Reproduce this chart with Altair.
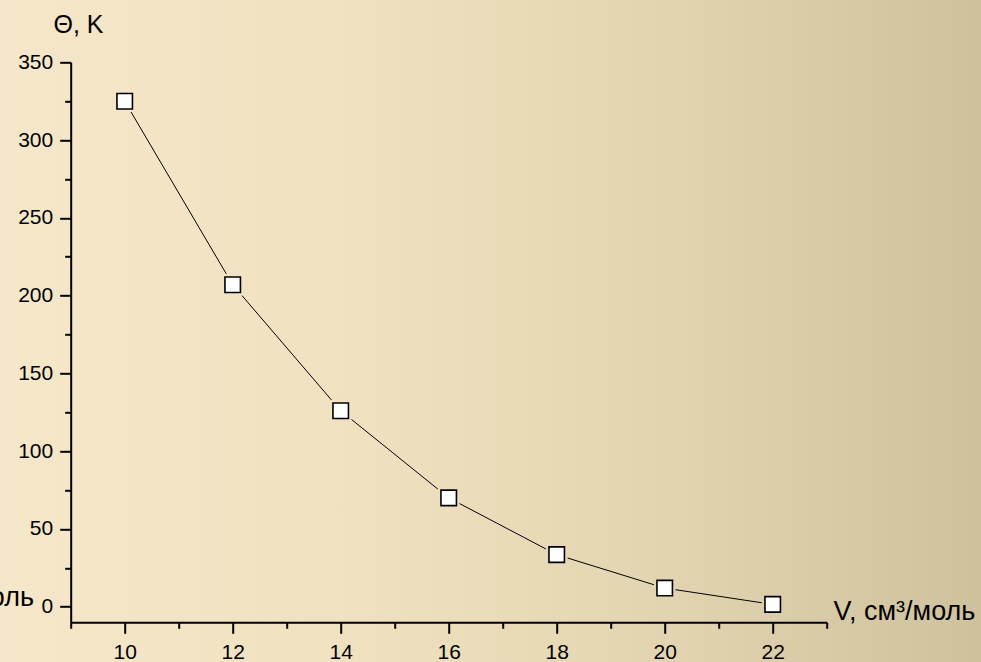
import altair as alt
import pandas as pd

# Debye temperature versus molar volume
volume = [10, 12, 14, 16, 18, 20, 22]
theta = [325, 207, 126, 70, 33.5, 12, 1.5]

x_major = [10, 12, 14, 16, 18, 20, 22]
x_minor = [9, 11, 13, 15, 17, 19, 21, 23]
y_major = [0, 50, 100, 150, 200, 250, 300, 350]
y_minor = [25, 75, 125, 175, 225, 275, 325]

x_title = "V, см³/моль"
y_title = "Θ, K"

FONT = "Liberation Sans"
W, H = 756, 560
PAD_L, PAD_T = 70.7, 62.3
PAD_R, PAD_B = 981 - W - PAD_L, 662 - H - PAD_T

# horizontal background gradient: stop offsets and colours
bg_offsets = [0, 0.35, 0.7, 1]
bg_colors = ["#F5E7C9", "#F0E1C0", "#E2D3B0", "#CEC19D"]

df = pd.DataFrame({"V": volume, "T": theta})

X_MIN, X_MAX = 9, 23
x_scale = alt.Scale(domain=[X_MIN, X_MAX], nice=False, zero=False)
y_scale = alt.Scale(domain=[-10, 350], nice=False, zero=False)

# page background: soft beige gradient behind everything
bg = alt.Chart(alt.Data(values=[{}])).mark_rect(
    color=alt.LinearGradient(
        gradient="linear",
        x1=0, x2=1, y1=0, y2=0,
        stops=[alt.GradientStop(offset=o, color=c)
               for o, c in zip(bg_offsets, bg_colors)],
    )
).encode(
    x=alt.value(-PAD_L), x2=alt.value(W + PAD_R),
    y=alt.value(-PAD_T), y2=alt.value(H + PAD_B),
)

# the same gradient expressed in data units along V, so the halo
# behind each marker takes the colour of the page at that spot
px_per_unit = W / (X_MAX - X_MIN)
v_left = X_MIN - PAD_L / px_per_unit
v_span = (W + PAD_L + PAD_R) / px_per_unit
halo_domain = [v_left + o * v_span for o in bg_offsets]

base = alt.Chart(df)

line = base.mark_line(color="black", strokeWidth=1).encode(
    x=alt.X("V:Q", scale=x_scale, axis=alt.Axis(
        orient="bottom", values=x_major, tickSize=11, labelPadding=8,
        title=x_title, titleX=762.3, titleY=-3.3, titleAlign="left",
        titleBaseline="alphabetic", titleAngle=0, titleFontSize=27,
        zindex=1,
    )),
    y=alt.Y("T:Q", scale=y_scale, axis=alt.Axis(
        orient="left", values=y_major, tickSize=11, labelPadding=7,
        title=y_title, titleX=7.3, titleY=-30.3, titleAlign="center",
        titleBaseline="alphabetic", titleAngle=0, titleFontSize=25,
        zindex=1,
    )),
)

# minor ticks drawn by a second, label-free axis pair
minor = base.mark_line(opacity=0).encode(
    x=alt.X("V:Q", scale=x_scale, axis=alt.Axis(
        orient="bottom", values=x_minor, tickSize=6, labels=False,
        domain=False, title=None, zindex=1,
    )),
    y=alt.Y("T:Q", scale=y_scale, axis=alt.Axis(
        orient="left", values=y_minor, tickSize=6, labels=False,
        domain=False, title=None, zindex=1,
    )),
)

# small gap between the connecting line and each marker
halo = base.mark_point(
    shape="square", filled=True, size=470, opacity=1, strokeWidth=0,
).encode(
    x=alt.X("V:Q", scale=x_scale, axis=None),
    y=alt.Y("T:Q", scale=y_scale, axis=None),
    fill=alt.Fill("V:Q", scale=alt.Scale(
        domain=halo_domain, range=bg_colors, interpolate="rgb"), legend=None),
)

points = base.mark_point(
    shape="square", filled=True, fill="white", stroke="black",
    strokeWidth=1.6, size=240, opacity=1,
).encode(
    x=alt.X("V:Q", scale=x_scale, axis=None),
    y=alt.Y("T:Q", scale=y_scale, axis=None),
)

stray = alt.Chart(alt.Data(values=[{"t": x_title}])).mark_text(
    align="right", baseline="alphabetic", font=FONT, fontSize=27, color="black",
).encode(
    x=alt.value(-36.7), y=alt.value(543.7), text="t:N",
)

chart = alt.layer(bg, line, minor, halo, points, stray).resolve_axis(
    x="independent", y="independent"
).properties(
    width=W, height=H,
    autosize=alt.AutoSizeParams(type="none"),
    padding={"left": PAD_L, "top": PAD_T, "right": PAD_R, "bottom": PAD_B},
    background="#E9DBB9",
).configure_view(stroke=None).configure_axis(
    grid=False,
    domainColor="black", domainWidth=2,
    tickColor="black", tickWidth=2,
    labelFont=FONT, labelFontSize=21, labelColor="black",
    titleFont=FONT, titleFontWeight="normal", titleColor="black",
)

chart.save("out.html", embed_options={"renderer": "svg", "actions": False})
